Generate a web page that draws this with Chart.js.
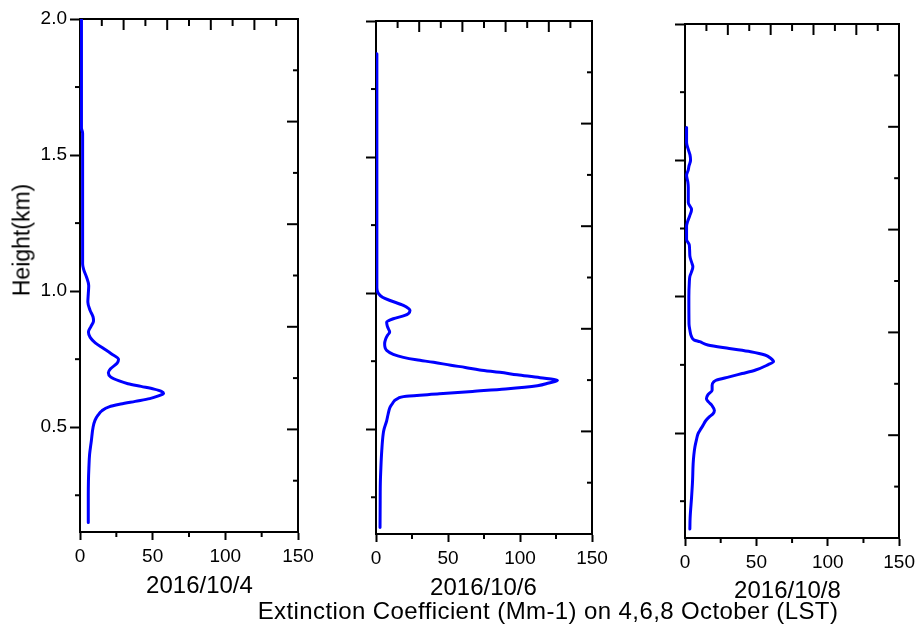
<!DOCTYPE html>
<html>
<head>
<meta charset="utf-8">
<script src="https://cdn.jsdelivr.net/npm/chart.js@4.4.1/dist/chart.umd.min.js"></script>
<style>
html,body{margin:0;padding:0;background:#fff;}
#wrap{position:relative;width:920px;height:626px;overflow:hidden;background:#fff;}
canvas{position:absolute;top:0;}
.lbl{position:absolute;font-family:"Liberation Sans",Arial,sans-serif;color:#000;white-space:nowrap;transform:translate(-50%,-50%);}
#xtitle{font-size:24px;letter-spacing:0.4px;}
.ptitle{font-size:24px;}
#ytitle{font-size:23px;transform:translate(-50%,-50%) rotate(-90deg);}
</style>
</head>
<body>
<div id="wrap">
  <canvas id="c1" width="320" height="626" style="left:0px"></canvas>
  <canvas id="c2" width="290" height="626" style="left:330px"></canvas>
  <canvas id="c3" width="280" height="626" style="left:640px"></canvas>
  <div id="ytitle" class="lbl" style="left:21.5px;top:239.5px"></div>
  <div id="t1" class="lbl ptitle" style="left:199.5px;top:585px"></div>
  <div id="t2" class="lbl ptitle" style="left:483.5px;top:587px"></div>
  <div id="t3" class="lbl ptitle" style="left:787.5px;top:590px"></div>
  <div id="xtitle" class="lbl" style="left:548px;top:611px"></div>
</div>
<script>
// ---------- data ----------
const HEIGHTS_1004 = [2.00,1.60,1.58,1.10,1.08,1.05,1.02,0.99,0.96,0.93,0.905,0.89,0.87,0.85,0.83,0.81,0.79,0.77,0.75,0.735,0.715,0.70,0.685,0.67,0.66,0.65,0.64,0.632,0.624,0.615,0.605,0.595,0.585,0.575,0.56,0.545,0.525,0.50,0.45,0.40,0.35,0.30,0.25,0.20,0.15];
const EXT_1004     = [1.0, 1.0, 1.8, 1.8, 2.5, 4.6, 6.0, 5.7, 5.4, 6.9, 9.0, 9.3, 7.5, 5.8, 7.0, 10.5,16, 21.5,26.5,25.5,21, 19.5,21, 27, 33, 42, 51, 56, 57.5,54, 48, 38, 28, 20, 15, 12.5,10.3,9.0, 7.8, 6.6, 6.1, 5.8, 5.7, 5.7, 5.7];

const HEIGHTS_1006 = [1.88,1.02,1.00,0.985,0.973,0.955,0.936,0.925,0.918,0.906,0.893,0.88,0.869,0.857,0.845,0.83,0.814,0.80,0.79,0.775,0.764,0.755,0.746,0.735,0.727,0.718,0.709,0.70,0.689,0.679,0.670,0.660,0.648,0.639,0.63,0.621,0.611,0.595,0.58,0.555,0.531,0.50,0.483,0.421,0.36,0.30,0.237,0.139];
const EXT_1006     = [0.6, 0.6, 1.5, 4.5,  9.7,  19,   23.6, 22.5, 20,   12,   7.4,  7.8, 8.6,  9.5,  8.0,  6.6, 6.0,  6.3, 7.4, 12,   19,   28,   40,   52,   62,   72,   86,   98,  114,  126,  120,  112,  90,   67,   44,  21,   14.4, 11.5, 9.7, 8.4,  7.4,  5.6, 5.0,  4.0,  3.4, 3.0, 2.9,  2.8];

const HEIGHTS_1008 = [1.62,1.565,1.54,1.52,1.50,1.48,1.465,1.445,1.42,1.40,1.345,1.32,1.295,1.275,1.258,1.21,1.19,1.15,1.12,1.11,1.09,1.074,1.05,1.00,0.90,0.878,0.853,0.841,0.835,0.823,0.81,0.798,0.786,0.774,0.762,0.75,0.73,0.718,0.706,0.694,0.687,0.675,0.657,0.64,0.626,0.614,0.60,0.583,0.57,0.559,0.545,0.528,0.51,0.497,0.475,0.448,0.42,0.387,0.326,0.264,0.19,0.148];
const EXT_1008     = [1.1, 1.1,  2.3, 3.5, 3.9, 2.8, 2.3,  1.1,  2.0, 2.3, 2.3,  4.6, 3.2,  1.8,  1.1,  1.1, 3.0, 3.4, 5.0, 5.5, 4.5, 3.4,  3.0, 2.7, 2.8, 3.4,  4.6,  6.5,  10.3, 16,   31,  46,   56,   60,   62,   58,  49,  40,   31,   22,   20,   19,   19,   16,  15,   16.5, 19,  20.6, 19.5,17,  14.5, 12.6, 10.5,9.1,  8.0,  6.9,  6.2, 5.7,  5.3,  4.6,  3.6, 3.4];

const PANEL_TITLES = ['2016/10/4', '2016/10/6', '2016/10/8'];
const Y_TITLE = 'Height(km)';
const X_TITLE = 'Extinction Coefficient (Mm-1) on 4,6,8 October (LST)';

const X_TICKS   = [0, 50, 100, 150];
const X_MINOR   = [25, 75, 125];
const TOP_MAJOR = [30, 60, 90, 120];
const TOP_MINOR = [15, 45, 75, 105, 135];
const Y_TICKS   = [0.5, 1.0, 1.5, 2.0];
const Y_MINOR   = [0.25, 0.75, 1.25, 1.75];
const R_MAJOR   = [1, 2, 3, 4];
const R_MINOR   = [0.5, 1.5, 2.5, 3.5, 4.5];

// ---------- layout / style ----------
const FONT = '"Liberation Sans", Arial, sans-serif';
const CANVAS_H = 626;
const XAXIS_H = 66;
const PANELS = [
  {id:'c1', left:0,   width:320, yW:80, top:19, bottom:532, right:298, showY:true,  h:HEIGHTS_1004, v:EXT_1004},
  {id:'c2', left:330, width:290, yW:46, top:21, bottom:534, right:592, showY:false, h:HEIGHTS_1006, v:EXT_1006},
  {id:'c3', left:640, width:280, yW:45, top:24, bottom:538, right:903, showY:false, h:HEIGHTS_1008, v:EXT_1008},
];

document.getElementById('xtitle').textContent = X_TITLE;
document.getElementById('ytitle').textContent = Y_TITLE;
['t1','t2','t3'].forEach((id, i) => { document.getElementById(id).textContent = PANEL_TITLES[i]; });

const extraTicks = {
  id: 'extraTicks',
  afterDraw(chart) {
    const {ctx, chartArea: a, scales} = chart;
    ctx.save();
    ctx.strokeStyle = '#000';
    ctx.lineWidth = 2;
    const seg = (x1, y1, x2, y2) => { ctx.beginPath(); ctx.moveTo(x1, y1); ctx.lineTo(x2, y2); ctx.stroke(); };
    X_MINOR.forEach(v => { const p = scales.x.getPixelForValue(v); seg(p, a.bottom, p, a.bottom + 5); });
    TOP_MAJOR.forEach(v => { const p = scales.x.getPixelForValue(v); seg(p, a.top, p, a.top + 11); });
    TOP_MINOR.forEach(v => { const p = scales.x.getPixelForValue(v); seg(p, a.top, p, a.top + 7); });
    Y_MINOR.forEach(v => { const p = scales.y.getPixelForValue(v); seg(a.left - 5, p, a.left, p); });
    R_MAJOR.forEach(v => { const p = scales.y2.getPixelForValue(v); seg(a.right - 11, p, a.right, p); });
    R_MINOR.forEach(v => { const p = scales.y2.getPixelForValue(v); seg(a.right - 5, p, a.right, p); });
    ctx.restore();
  }
};

PANELS.forEach(P => {
  const ctx = document.getElementById(P.id).getContext('2d');
  new Chart(ctx, {
    type: 'line',
    data: {
      datasets: [{
        data: P.h.map((h, i) => ({x: P.v[i], y: h})),
        borderColor: '#0000ff',
        borderWidth: 3,
        pointRadius: 0,
        fill: false,
        cubicInterpolationMode: 'monotone',
        borderJoinStyle: 'round',
        borderCapStyle: 'round'
      }]
    },
    options: {
      responsive: false,
      animation: false,
      indexAxis: 'y',
      layout: {padding: {left: 0, top: P.top, right: P.left + P.width - P.right, bottom: CANVAS_H - P.bottom - XAXIS_H}},
      plugins: {legend: {display: false}, tooltip: {enabled: false}, title: {display: false}},
      scales: {
        x: {
          type: 'linear', position: 'bottom', min: 0, max: 150,
          afterBuildTicks: s => { s.ticks = X_TICKS.map(v => ({value: v})); },
          afterFit: s => { s.height = XAXIS_H; },
          ticks: {color: '#000', padding: 5, maxRotation: 0, font: {family: FONT, size: 19}},
          grid: {display: true, drawOnChartArea: false, drawTicks: true, tickLength: 8, tickColor: '#000', tickWidth: 2},
          border: {display: true, color: '#000', width: 2}
        },
        y: {
          type: 'linear', position: 'left', min: 0.115, max: 2.0,
          afterBuildTicks: s => { s.ticks = Y_TICKS.map(v => ({value: v})); },
          afterFit: s => { s.width = P.yW; },
          ticks: {display: P.showY, color: '#000', padding: 3, font: {family: FONT, size: 19}, callback: v => Number(v).toFixed(1)},
          grid: {display: true, drawOnChartArea: false, drawTicks: true, tickLength: 10, tickColor: '#000', tickWidth: 2},
          border: {display: true, color: '#000', width: 2}
        },
        x2: {
          type: 'linear', position: 'top', min: 0, max: 150,
          afterFit: s => { s.height = 0; },
          ticks: {display: false},
          grid: {display: false, drawTicks: false},
          border: {display: true, color: '#000', width: 2}
        },
        y2: {
          type: 'linear', position: 'right', min: 0, max: 5,
          afterFit: s => { s.width = 0; },
          ticks: {display: false},
          grid: {display: false, drawTicks: false},
          border: {display: true, color: '#000', width: 2}
        }
      }
    },
    plugins: [extraTicks]
  });
});
</script>
</body>
</html>
